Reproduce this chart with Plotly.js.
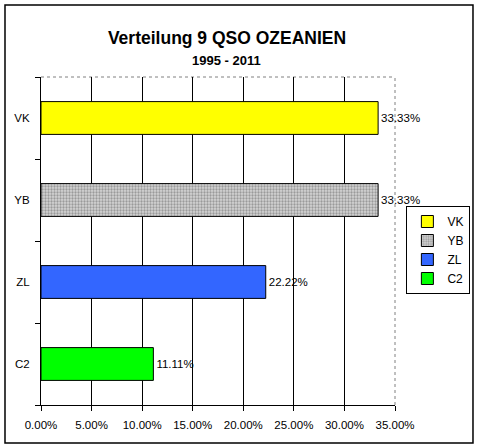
<!DOCTYPE html>
<html>
<head>
<meta charset="utf-8">
<script src="https://cdn.plot.ly/plotly-3.0.1.min.js"></script>
<style>
  html, body { margin: 0; padding: 0; background: #ffffff; }
  #chart { width: 479px; height: 448px; }
</style>
</head>
<body>
<div id="chart"></div>
<script>
// ---- data ----
const categories = ['VK', 'YB', 'ZL', 'C2'];
const shares = [33.33, 33.33, 22.22, 11.11];
const valueLabels = ['33.33%', '33.33%', '22.22%', '11.11%'];
const tickValues = [0, 5, 10, 15, 20, 25, 30, 35];
const tickLabels = ['0.00%', '5.00%', '10.00%', '15.00%', '20.00%', '25.00%', '30.00%', '35.00%'];
const chartTitle = 'Verteilung 9 QSO OZEANIEN';
const chartSubtitle = '1995 - 2011';

// ---- styles ----
const barColors = ['#ffff00', '#c0c0c0', '#3366ff', '#00ff00'];
const FONT = 'Liberation Sans, Arial, sans-serif';

const traces = categories.map((c, i) => {
  const t = {
    type: 'bar',
    orientation: 'h',
    name: c,
    y: [c],
    x: [shares[i]],
    text: [valueLabels[i]],
    textposition: 'outside',
    textfont: { family: FONT, size: 11.5, color: '#000000' },
    cliponaxis: false,
    width: 0.4,
    marker: { color: barColors[i], line: { color: '#000000', width: 1 } },
    hoverinfo: 'none'
  };
  if (c === 'YB') {
    t.marker.pattern = { shape: '.', bgcolor: '#d4d4d4', fgcolor: '#9a9a9a', size: 3, solidity: 0.45 };
  }
  return t;
});

const layout = {
  width: 479,
  height: 448,
  margin: { l: 41, r: 84, t: 77, b: 43, pad: 0, autoexpand: false },
  paper_bgcolor: '#ffffff',
  plot_bgcolor: '#ffffff',
  barmode: 'overlay',
  showlegend: true,
  font: { family: FONT, size: 12, color: '#000000' },
  title: {
    text: '<b>' + chartTitle + '</b>',
    font: { family: FONT, size: 17.5, color: '#000000' },
    x: 0.474, xanchor: 'center', xref: 'container',
    y: 0.915, yanchor: 'middle', yref: 'container'
  },
  annotations: [{
    text: '<b>' + chartSubtitle + '</b>',
    font: { family: FONT, size: 13, color: '#000000' },
    xref: 'paper', yref: 'paper', x: 0.525, y: 1.050,
    xanchor: 'center', yanchor: 'middle', showarrow: false
  }],
  xaxis: {
    range: [0, 35],
    tickmode: 'array',
    tickvals: tickValues,
    ticktext: tickLabels,
    ticks: 'outside', ticklen: 5, tickcolor: '#000000', tickwidth: 1,
    ticklabelstandoff: 4,
    showgrid: true, gridcolor: '#000000', gridwidth: 1,
    showline: true, linecolor: '#000000', linewidth: 1,
    zeroline: false,
    tickfont: { family: FONT, size: 11.5, color: '#000000' },
    fixedrange: true
  },
  yaxis: {
    type: 'category',
    categoryorder: 'array',
    categoryarray: categories.slice().reverse(),
    range: [-0.5, 3.5],
    tickson: 'boundaries',
    ticks: 'outside', ticklen: 5, tickcolor: '#000000', tickwidth: 1,
    ticklabelstandoff: 8,
    showgrid: false,
    showline: true, linecolor: '#000000', linewidth: 1,
    zeroline: false,
    tickfont: { family: FONT, size: 11.5, color: '#000000' },
    fixedrange: true
  },
  legend: {
    xref: 'container', yref: 'container',
    x: 0.982, y: 1 - 206 / 448, xanchor: 'right', yanchor: 'top',
    bordercolor: '#000000', borderwidth: 1, bgcolor: '#ffffff',
    font: { family: FONT, size: 12, color: '#000000' },
    traceorder: 'normal', tracegroupgap: 0
  },
  shapes: [
    // white under-line hides the black gridline at the right edge
    { type: 'line', xref: 'paper', yref: 'paper', x0: 1, x1: 1, y0: 0.002, y1: 1, line: { color: '#ffffff', width: 1.5 }, layer: 'between' },
    // dotted top and right plot border
    { type: 'line', xref: 'paper', yref: 'paper', x0: 0, x1: 1, y0: 1, y1: 1, line: { color: '#808080', width: 1, dash: 'dot' }, layer: 'between' },
    { type: 'line', xref: 'paper', yref: 'paper', x0: 1, x1: 1, y0: 0, y1: 1, line: { color: '#808080', width: 1, dash: 'dot' }, layer: 'between' },
    // outer chart frame
    { type: 'rect', xref: 'paper', yref: 'paper', x0: -0.1017, x1: 1.2203, y0: -0.1159, y1: 1.2195, line: { color: '#000000', width: 1.5 }, fillcolor: 'rgba(0,0,0,0)', layer: 'below' }
  ]
};

Plotly.newPlot('chart', traces, layout, { displayModeBar: false, staticPlot: true });
</script>
</body>
</html>
